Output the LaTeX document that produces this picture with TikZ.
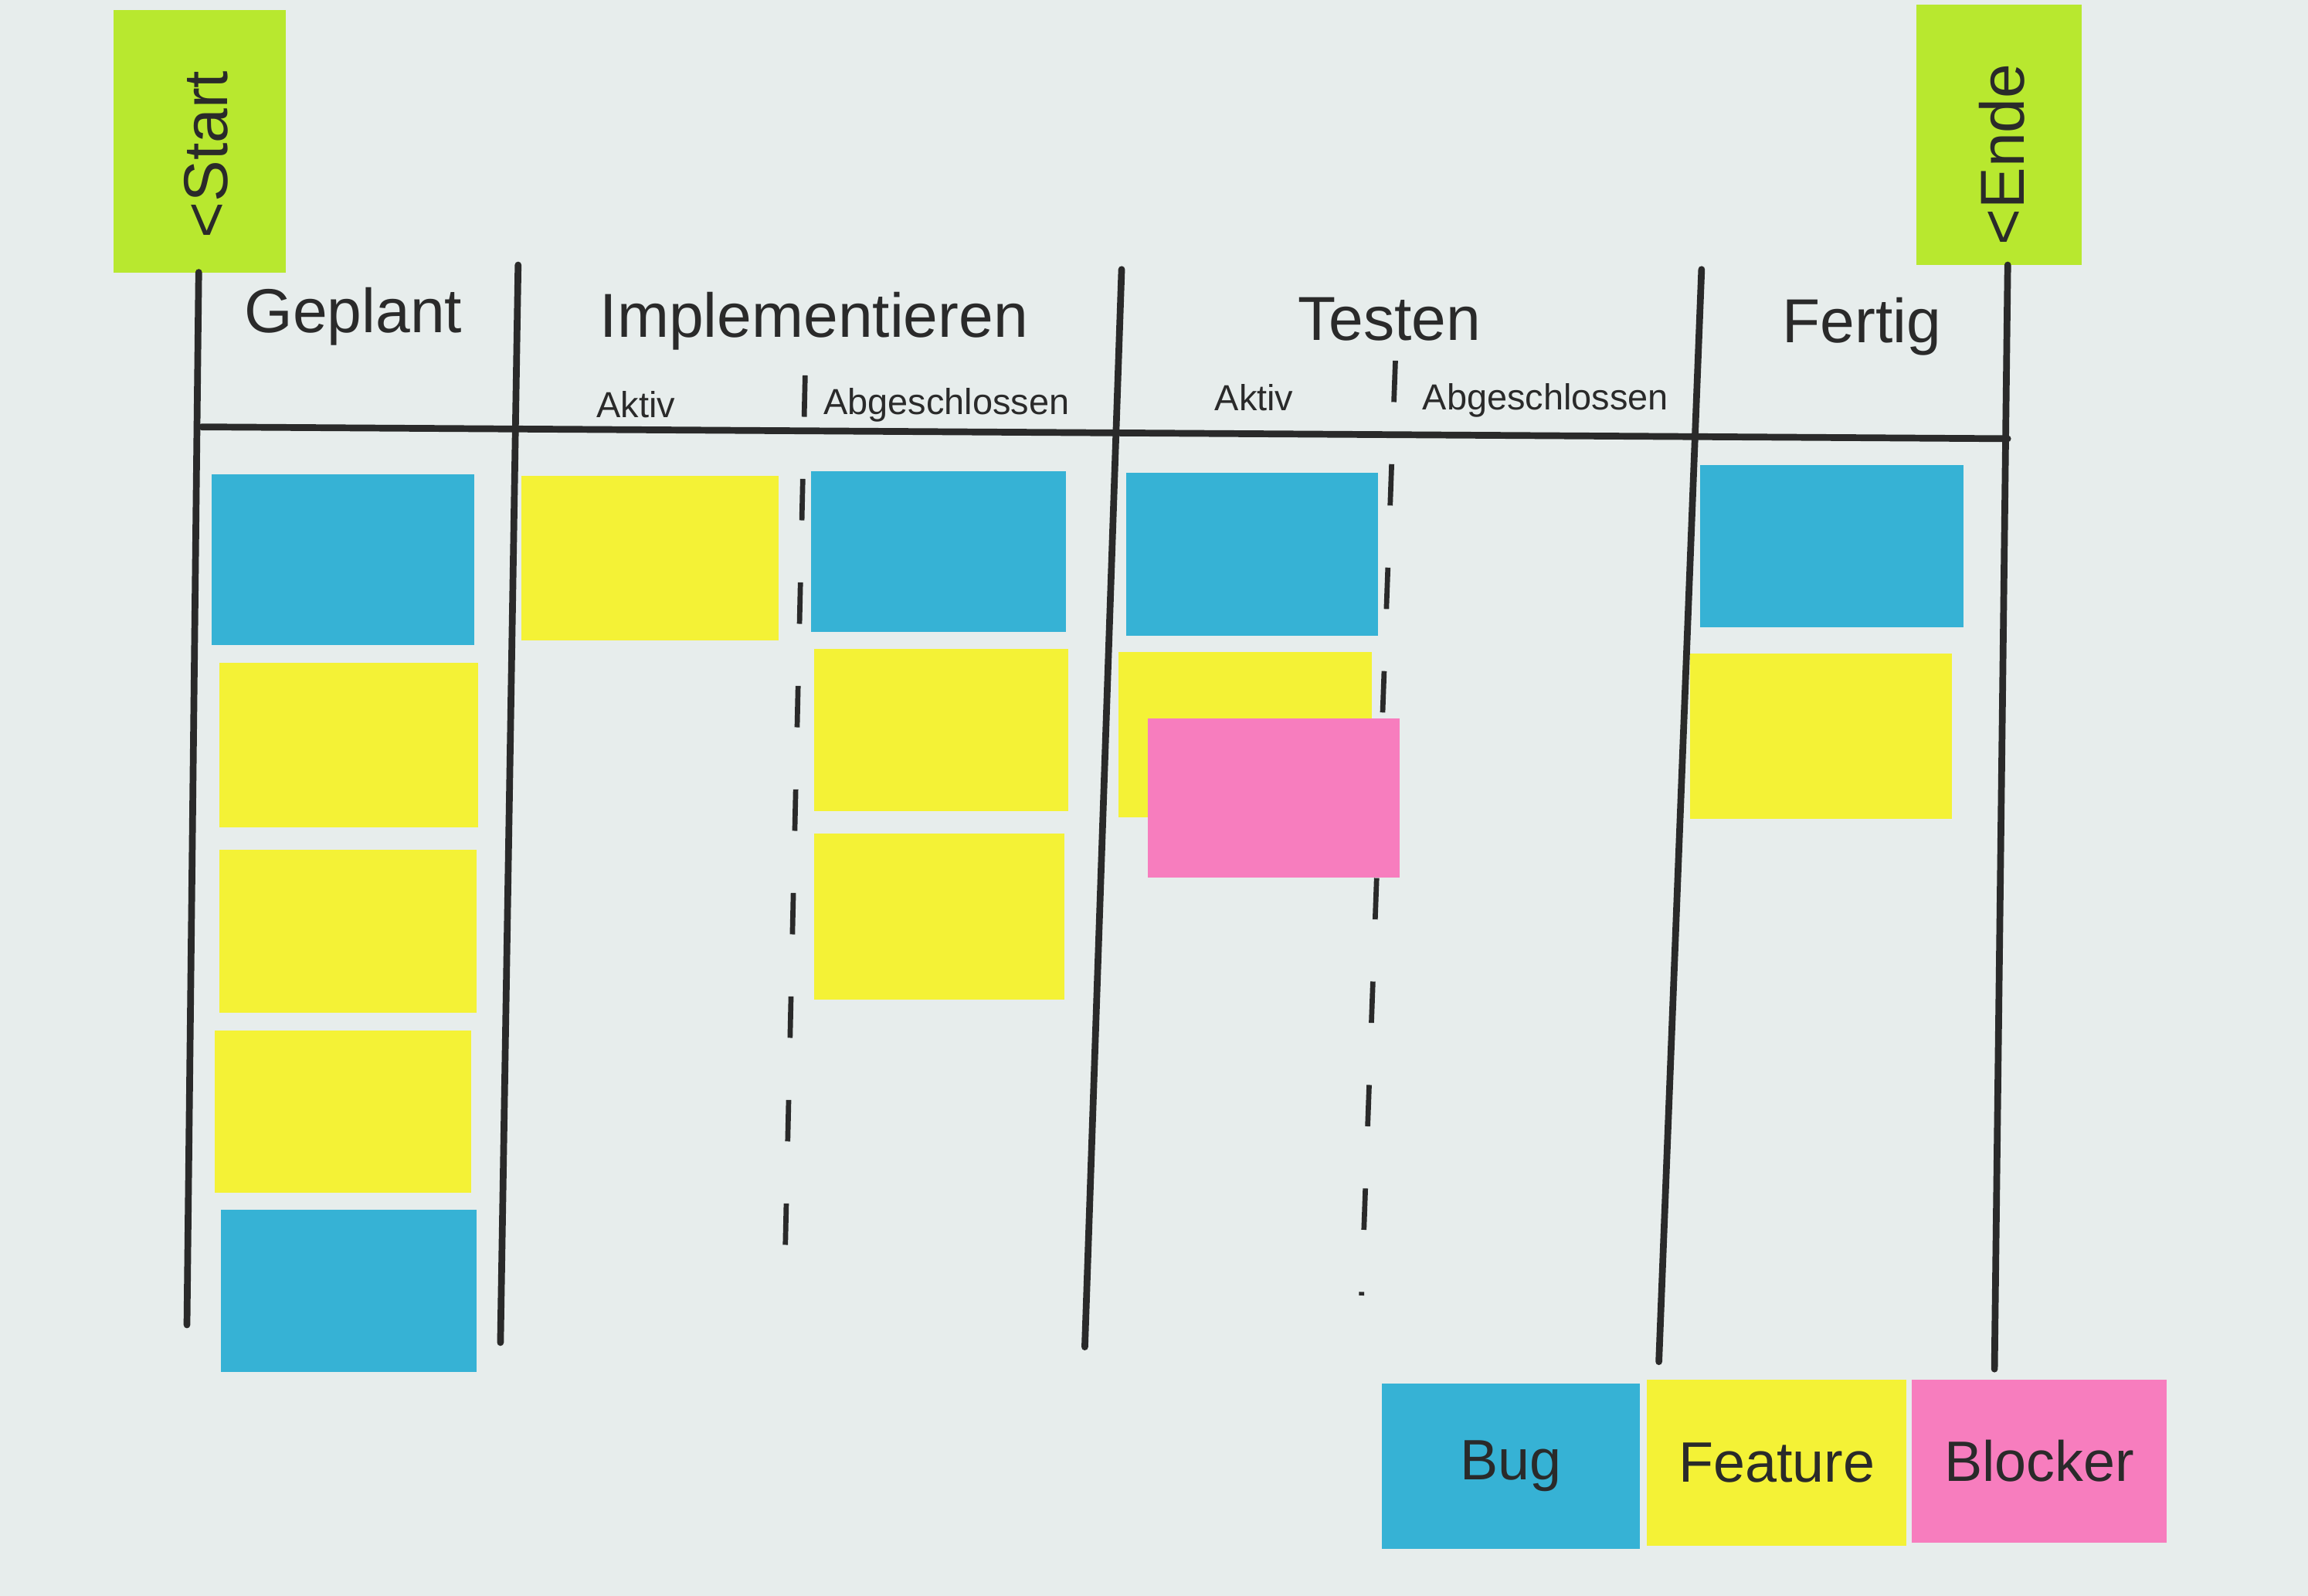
\documentclass[tikz,border=0pt]{standalone}
\usepackage{fontspec}
\setmainfont{Liberation Sans}
\definecolor{bg}{HTML}{E7EDEC}
\definecolor{nblue}{HTML}{36B2D5}
\definecolor{nyel}{HTML}{F4F236}
\definecolor{npink}{HTML}{F77DBE}
\definecolor{ngreen}{HTML}{B8E82F}
\definecolor{ink}{HTML}{2A2A2A}
\begin{document}
\begin{tikzpicture}[x=0.01cm,y=0.01cm,
  col/.style={ink,line width=1.3pt,line cap=round},
  dashln/.style={ink,line width=1pt,dash pattern=on 8pt off 12pt},
  head/.style={font=\fontsize{12}{14}\selectfont,text=ink},
  sub/.style={font=\fontsize{7}{8}\selectfont,text=ink},
  leg/.style={font=\fontsize{11}{13}\selectfont,text=ink,inner sep=0pt}]
\fill[bg] (0,0) rectangle (1568,-1084);
\useasboundingbox (0,0) rectangle (1568,-1084);
% tags
\fill[ngreen] (77,-7) rectangle (194,-185);
\fill[ngreen] (1302,-3) rectangle (1414,-180);
\node[head,rotate=90] (start) at (140,-105) {<Start};
\node[head,rotate=90] (ende) at (1360,-105) {<Ende};
% columns
\coordinate (c1t) at (135,-185); \coordinate (c1b) at (127,-900);
\coordinate (c2t) at (352,-180); \coordinate (c2b) at (340,-912);
\coordinate (c3t) at (762,-183); \coordinate (c3b) at (737,-915);
\coordinate (c4t) at (1156,-183); \coordinate (c4b) at (1127,-925);
\coordinate (c5t) at (1364,-180); \coordinate (c5b) at (1355,-930);
\foreach \a in {1,...,5} \draw[col] (c\a t) -- (c\a b);
\coordinate (hl) at (137,-290); \coordinate (hr) at (1364,-298);
\draw[col] (hl) -- (hr);
\coordinate (d1t) at (547,-255); \coordinate (d1b) at (533,-870);
\coordinate (d2t) at (948,-245); \coordinate (d2b) at (925,-880);
\draw[dashln] (d1t) -- (d1b);
\draw[dashln] (d2t) -- (d2b);
% headings
\node[head] (h1) at (240,-215) {Geplant};
\node[head] (h2) at (553,-218) {Implementieren};
\node[head] (h3) at (944,-217) {Testen};
\node[head] (h4) at (1265,-222) {Fertig};
\node[sub] (s1) at (432,-275) {Aktiv};
\node[sub] (s2) at (643,-275) {Abgeschlossen};
\node[sub] (s3) at (852,-270) {Aktiv};
\node[sub] (s4) at (1050,-272) {Abgeschlossen};
% notes
\fill[nblue] (144,-322) rectangle (322,-438);
\fill[nyel] (149,-450) rectangle (325,-562);
\fill[nyel] (149,-577) rectangle (324,-688);
\fill[nyel] (146,-700) rectangle (320,-810);
\fill[nblue] (150,-822) rectangle (324,-932);
\fill[nyel] (354,-323) rectangle (529,-435);
\fill[nblue] (551,-320) rectangle (724,-429);
\fill[nyel] (553,-441) rectangle (726,-551);
\fill[nyel] (553,-566) rectangle (723,-679);
\fill[nblue] (765,-321) rectangle (936,-432);
\fill[nyel] (760,-443) rectangle (932,-555);
\fill[npink] (780,-488) rectangle (951,-596);
\fill[nblue] (1155,-316) rectangle (1334,-426);
\fill[nyel] (1148,-444) rectangle (1326,-556);
% legend
\node[leg,fill=nblue,minimum width=1.75cm,minimum height=1.12cm] (bug) at (1026.5,-996) {Bug};
\node[leg,fill=nyel,minimum width=1.76cm,minimum height=1.13cm] (feat) at (1207,-993.5) {Feature};
\node[leg,fill=npink,minimum width=1.73cm,minimum height=1.11cm] (block) at (1385.5,-992.5) {Blocker};
\end{tikzpicture}
\end{document}
